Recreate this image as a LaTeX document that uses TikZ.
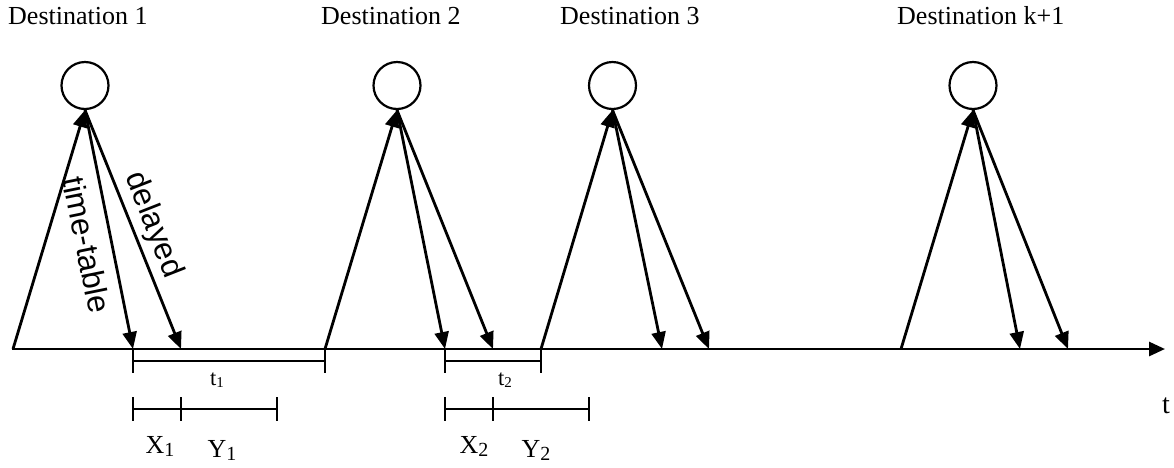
\documentclass[tikz,border=0pt]{standalone}
\usepackage{fontspec}
\setmainfont{Liberation Serif}
\newfontfamily\arialfam{Liberation Sans}
\usetikzlibrary{arrows.meta}
\newcommand\lowsub[3]{\raisebox{-#1}{\fontsize{#2}{#2}\selectfont #3}}
\begin{document}
\begin{tikzpicture}[x=1pt,y=-1pt,
  ln/.style={line width=2.8pt},
  arr/.style={ln,-{Triangle[length=17pt,width=14pt]}},
  dest/.style={circle,draw,line width=2.2pt,minimum size=47pt,inner sep=0pt},
  lbl/.style={inner sep=0pt,font=\fontsize{26}{30}\selectfont},
  sublbl/.style={inner sep=0pt,font=\fontsize{22.5}{26}\selectfont},
  rot/.style={inner sep=0pt,font=\arialfam\fontsize{31.5}{35}\selectfont},
  brk/.style={line width=2.2pt},
  tick/.style={line width=2.6pt}]
\useasboundingbox (0,0) rectangle (1174,467);

% headings
\node[lbl,anchor=base west] (h1) at (8,24) {Destination 1};
\node[lbl,anchor=base west] (h2) at (321,24) {Destination 2};
\node[lbl,anchor=base west] (h3) at (560,24) {Destination 3};
\node[lbl,anchor=base west] (h4) at (897,24) {Destination k+1};

% destinations
\node[dest] (c1) at (85,85.5) {};
\node[dest] (c2) at (397,85.5) {};
\node[dest] (c3) at (612.5,85.5) {};
\node[dest] (c4) at (973,85.5) {};

% axis points
\coordinate (a0) at (12,349);
\coordinate (aend) at (1165,349);
\coordinate (s1) at (13,349);
\coordinate (s2) at (325,349);
\coordinate (s3) at (541,349);
\coordinate (s4) at (901,349);
\coordinate (tt1) at (133,349);
\coordinate (tt2) at (445,349);
\coordinate (tt3) at (662,349);
\coordinate (tt4) at (1020,349);
\coordinate (d1) at (181,349);
\coordinate (d2) at (493,349);
\coordinate (d3) at (709,349);
\coordinate (d4) at (1068,349);

% time axis
\draw[ln,-{Triangle[length=16pt,width=14pt]}] (a0) -- (aend);
\node[lbl,font=\fontsize{28}{30}\selectfont,anchor=base] (tl) at (1166,413) {t};

% arrows
\foreach \i in {1,2,3,4}{
  \draw[arr] (s\i) -- (c\i.south);
  \draw[arr] (c\i.south) -- (tt\i);
  \draw[arr] (c\i.south) -- (d\i);
}

% rotated labels
\node[rot,rotate=-78.5] (ttl) at (87,245) {time-table};
\node[rot,rotate=-68.5] (dl) at (153,225) {delayed};

% t brackets
\coordinate (b1l) at (133,361);
\coordinate (b1r) at (325,361);
\coordinate (b2l) at (445,361);
\coordinate (b2r) at (541,361);
\draw[brk] (b1l) -- (b1r);
\draw[brk] (b2l) -- (b2r);
\draw[tick] (tt1) -- ++(0,24);
\draw[tick] (s2) -- ++(0,24);
\draw[tick] (tt2) -- ++(0,24);
\draw[tick] (s3) -- ++(0,24);
\node[sublbl,anchor=base] (t1) at (217,385) {t\lowsub{2.5pt}{15}{1}};
\node[sublbl,anchor=base] (t2) at (505,385) {t\lowsub{2.5pt}{15}{2}};

% X/Y brackets
\coordinate (x1l) at (133,409);
\coordinate (x1m) at (181,409);
\coordinate (x1r) at (277,409);
\coordinate (x2l) at (445,409);
\coordinate (x2m) at (493,409);
\coordinate (x2r) at (589,409);
\draw[brk] (x1l) -- (x1r);
\draw[brk] (x2l) -- (x2r);
\foreach \p in {x1l,x1m,x1r,x2l,x2m,x2r}{
  \draw[tick] ([yshift=12pt]\p) -- ([yshift=-12pt]\p);
}
\node[lbl,anchor=base] (X1) at (160,453) {X\lowsub{3.5pt}{20}{1}};
\node[lbl,anchor=base] (Y1) at (222,457) {Y\lowsub{3.5pt}{20}{1}};
\node[lbl,anchor=base] (X2) at (474,453) {X\lowsub{3.5pt}{20}{2}};
\node[lbl,anchor=base] (Y2) at (536,457) {Y\lowsub{3.5pt}{20}{2}};
\end{tikzpicture}
\end{document}
